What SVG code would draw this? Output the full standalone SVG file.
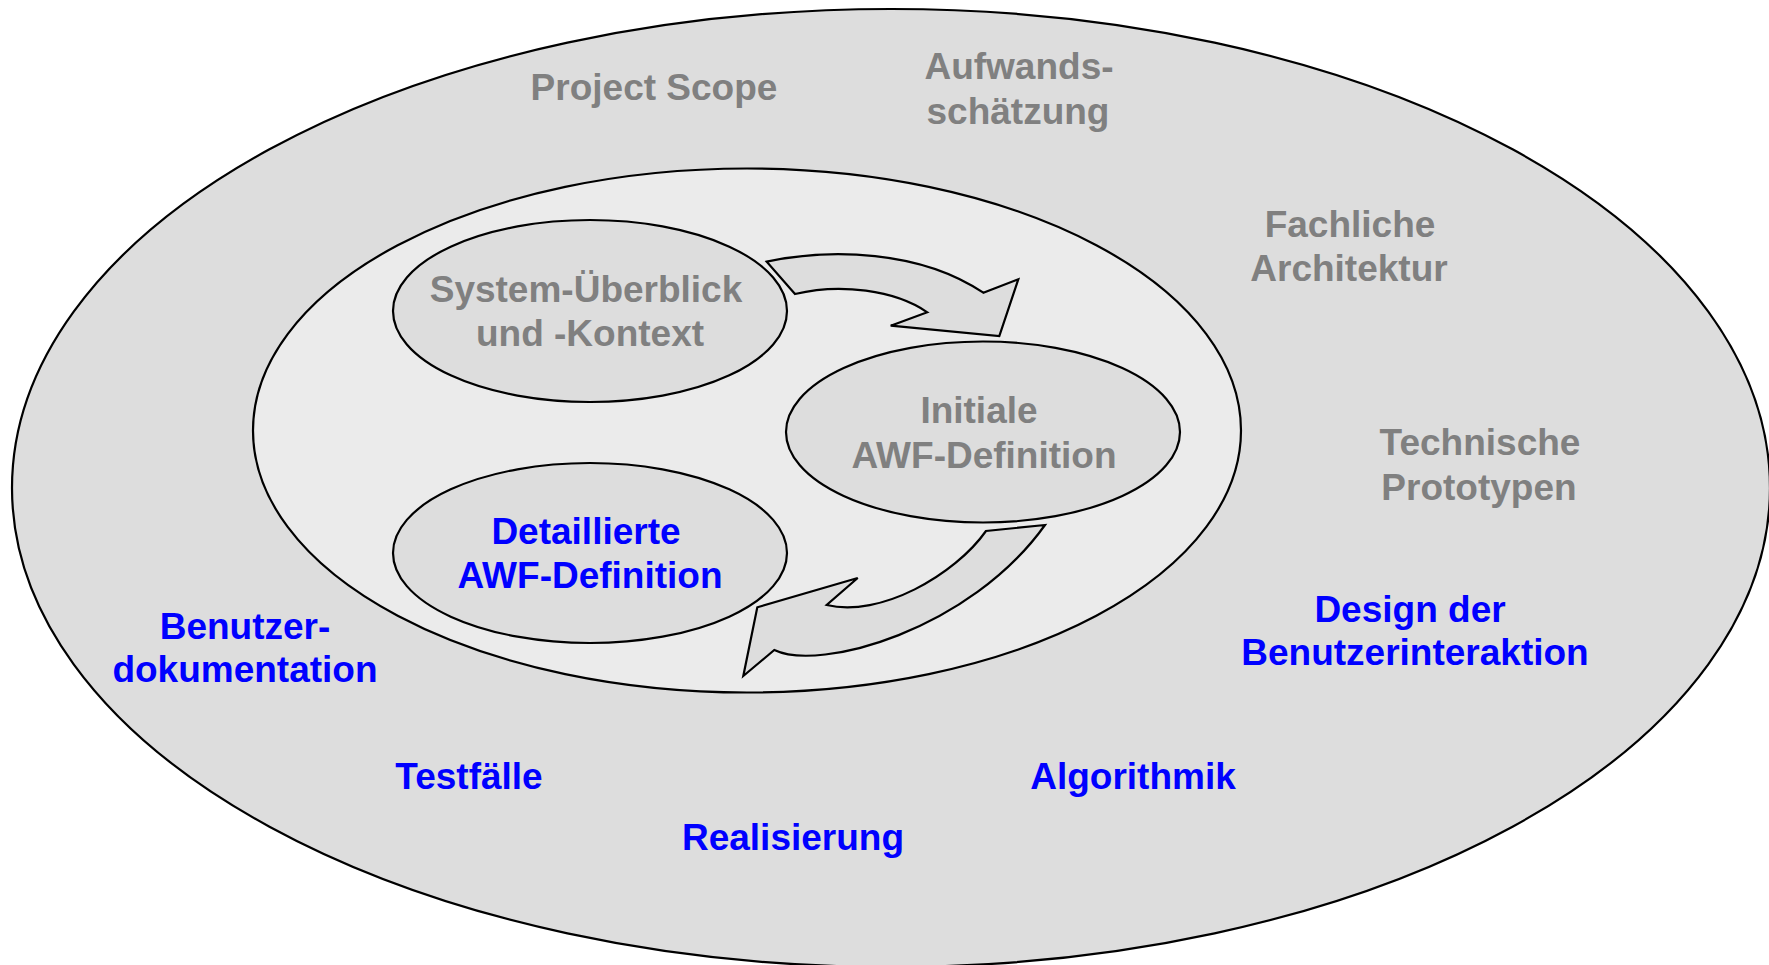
<svg xmlns="http://www.w3.org/2000/svg" width="1769" height="965" viewBox="0 0 1769 965">
<style>
.sh{stroke:#000;stroke-width:2.2;stroke-linejoin:miter}
.t{font-family:"Liberation Sans",Arial,sans-serif;font-weight:bold;font-size:37px;text-anchor:middle}
.g{fill:#808080}
.b{fill:#0000ff}
</style>
<rect width="1769" height="965" fill="#ffffff"/>
<g id="outer">
<ellipse class="sh" cx="891" cy="488" rx="879" ry="479" fill="#dddddd"/>
</g>
<g id="inner">
<ellipse class="sh" cx="747" cy="430.5" rx="494" ry="262" fill="#ebebeb"/>
</g>
<g id="connectors">
<path class="sh" fill="#dddddd" d="M766.7,261.7 C830,248 920,250 983.3,292.7 L1018.3,279.3 L999.3,336 L890.7,325.7 L927.3,312.3 C895,290 840,283 795,294 Z"/>
<path class="sh" fill="#dddddd" d="M1045,525 L986,531 C955,575 880,618 826.7,605 L857.7,578 L757.3,607.3 L743.3,676 L774.3,650 C820,672 970,630 1045,525 Z"/>
</g>
<g id="node-system">
<ellipse class="sh" cx="590" cy="311" rx="197" ry="91" fill="#dddddd"/>
<text class="t g" x="586" y="302">System-Überblick</text>
<text class="t g" x="590" y="346">und -Kontext</text>
</g>
<g id="node-initiale">
<ellipse class="sh" cx="983" cy="432" rx="197" ry="90.5" fill="#dddddd"/>
<text class="t g" x="979" y="423">Initiale</text>
<text class="t g" x="984" y="467.5">AWF-Definition</text>
</g>
<g id="node-detail">
<ellipse class="sh" cx="590" cy="553" rx="197" ry="90" fill="#dddddd"/>
<text class="t b" x="586" y="544">Detaillierte</text>
<text class="t b" x="590" y="588">AWF-Definition</text>
</g>
<g id="labels">
<text class="t g" x="654" y="100">Project Scope</text>
<text class="t g" x="1019" y="79">Aufwands-</text>
<text class="t g" x="1018" y="123.5">schätzung</text>
<text class="t g" x="1350" y="237">Fachliche</text>
<text class="t g" x="1349" y="281">Architektur</text>
<text class="t g" x="1480" y="455">Technische</text>
<text class="t g" x="1479" y="500">Prototypen</text>
<text class="t b" x="1410" y="621.5">Design der</text>
<text class="t b" x="1415" y="665">Benutzerinteraktion</text>
<text class="t b" x="245" y="638.5">Benutzer-</text>
<text class="t b" x="245" y="682">dokumentation</text>
<text class="t b" x="469" y="788.5">Testfälle</text>
<text class="t b" x="1133" y="788.5">Algorithmik</text>
<text class="t b" x="793" y="849.5">Realisierung</text>
</g>
</svg>
